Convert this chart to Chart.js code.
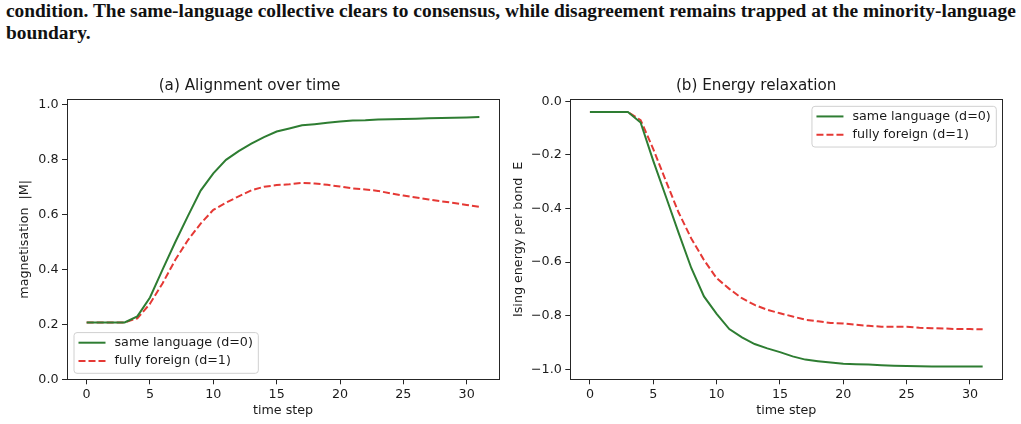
<!DOCTYPE html>
<html>
<head>
<meta charset="utf-8">
<script src="https://cdn.jsdelivr.net/npm/chart.js@4.4.1/dist/chart.umd.min.js"></script>
<style>
  html, body { margin: 0; padding: 0; background: #fff; }
  body { width: 1021px; height: 424px; position: relative; overflow: hidden; }
  .caption {
    position: absolute; left: 6px; top: 0;
    font-family: 'Liberation Serif', serif; font-weight: bold;
    font-size: 19.4px; line-height: 21.5px; color: #111;
    white-space: nowrap;
  }
  .panel { position: absolute; top: 60px; height: 364px; }
  #left { left: 0; width: 510px; }
  #right { left: 510px; width: 511px; }
</style>
</head>
<body>
<div class="caption">
  <div>condition. The same-language collective clears to consensus, while disagreement remains trapped at the minority-language</div>
  <div>boundary.</div>
</div>
<div class="panel" id="left"><canvas id="chartM" width="510" height="364"></canvas></div>
<div class="panel" id="right"><canvas id="chartE" width="511" height="364"></canvas></div>
<script>
/**
 * Data
 */
const timeSteps = Array.from({ length: 32 }, (_, i) => i);

const magSame = [
  0.207, 0.207, 0.207, 0.207, 0.229, 0.298, 0.400, 0.500, 0.595, 0.687,
  0.750, 0.799, 0.831, 0.858, 0.882, 0.902, 0.913, 0.925, 0.929, 0.934,
  0.939, 0.942, 0.943, 0.946, 0.947, 0.948, 0.949, 0.950, 0.951, 0.952,
  0.953, 0.955
];
const magForeign = [
  0.207, 0.207, 0.207, 0.207, 0.222, 0.275, 0.350, 0.435, 0.507, 0.567,
  0.617, 0.643, 0.666, 0.688, 0.701, 0.707, 0.710, 0.715, 0.713, 0.708,
  0.702, 0.695, 0.691, 0.686, 0.677, 0.669, 0.662, 0.655, 0.648, 0.642,
  0.635, 0.628
];
const energySame = [
  -0.040, -0.040, -0.040, -0.040, -0.079, -0.222, -0.356, -0.491, -0.622, -0.728,
  -0.793, -0.850, -0.881, -0.906, -0.922, -0.936, -0.952, -0.964, -0.970, -0.975,
  -0.979, -0.981, -0.982, -0.985, -0.987, -0.988, -0.989, -0.990, -0.990, -0.990,
  -0.990, -0.990
];
const energyForeign = [
  -0.040, -0.040, -0.040, -0.040, -0.070, -0.178, -0.298, -0.415, -0.512, -0.592,
  -0.660, -0.700, -0.735, -0.760, -0.778, -0.791, -0.803, -0.815, -0.821, -0.827,
  -0.829, -0.834, -0.838, -0.841, -0.841, -0.841, -0.845, -0.847, -0.848, -0.850,
  -0.850, -0.851
];

const xTicks = [0, 5, 10, 15, 20, 25, 30];
const magTicks = [0.0, 0.2, 0.4, 0.6, 0.8, 1.0];
const energyTicks = [-1.0, -0.8, -0.6, -0.4, -0.2, 0.0];

const seriesLabels = ['same language (d=0)', 'fully foreign (d=1)'];

/**
 * Shared styling
 */
const FONT = 'DejaVu Sans';
const TEXT_COLOR = '#1a1a1a';
const SPINE_COLOR = '#262626';
const GREEN = '#2e7d32';
const RED = '#e53935';
const BASE_SIZE = 12.7;

Chart.defaults.font.family = FONT;
Chart.defaults.font.size = BASE_SIZE;
Chart.defaults.color = TEXT_COLOR;

/**
 * Draws the full axes frame (all four spines)
 */
const framePlugin = {
  id: 'frame',
  afterDraw(chart) {
    const { ctx, chartArea: a } = chart;
    ctx.save();
    ctx.strokeStyle = SPINE_COLOR;
    ctx.lineWidth = 1;
    ctx.strokeRect(Math.round(a.left) + 0.5, Math.round(a.top) + 0.5,
      Math.round(a.right - a.left), Math.round(a.bottom - a.top));
    ctx.restore();
  }
};

/**
 * Matplotlib-like legend boxed inside the plot area
 */
const insideLegendPlugin = {
  id: 'insideLegend',
  afterDraw(chart, args, opts) {
    const { ctx, chartArea: a } = chart;
    const sets = chart.data.datasets;
    ctx.save();
    ctx.font = `${BASE_SIZE}px '${FONT}'`;
    const textW = Math.max(...sets.map(d => ctx.measureText(d.label).width));
    const w = 5 + 27 + 9 + textW + 5;
    const h = 40.7;
    const pad = 6.5;
    const x = opts.corner.includes('left') ? a.left + pad : a.right - pad - w;
    const y = opts.corner.includes('top') ? a.top + pad : a.bottom - pad - h;

    ctx.beginPath();
    ctx.roundRect(x + 0.5, y + 0.5, w, h, 3);
    ctx.fillStyle = 'rgba(255,255,255,0.8)';
    ctx.fill();
    ctx.strokeStyle = '#d0d0d0';
    ctx.lineWidth = 1;
    ctx.stroke();

    sets.forEach((d, i) => {
      const cy = y + 10.6 + i * 18.4;
      ctx.beginPath();
      ctx.strokeStyle = d.borderColor;
      ctx.lineWidth = d.borderWidth;
      ctx.setLineDash(d.borderDash || []);
      ctx.moveTo(x + 5, cy);
      ctx.lineTo(x + 32, cy);
      ctx.stroke();
      ctx.setLineDash([]);
      ctx.fillStyle = TEXT_COLOR;
      ctx.textBaseline = 'middle';
      ctx.textAlign = 'left';
      ctx.fillText(d.label, x + 41, cy);
    });
    ctx.restore();
  }
};

/**
 * Build a line dataset from x and y arrays
 */
function makeDataset(label, ys, color, dashed) {
  return {
    label,
    data: timeSteps.map((t, i) => ({ x: t, y: ys[i] })),
    borderColor: color,
    borderWidth: 2,
    borderDash: dashed ? [7, 3] : [],
    pointRadius: 0,
    tension: 0,
    fill: false
  };
}

/**
 * Create a panel configuration
 */
function makeConfig(p) {
  return {
    type: 'line',
    data: {
      datasets: [
        makeDataset(seriesLabels[0], p.same, GREEN, false),
        makeDataset(seriesLabels[1], p.foreign, RED, true)
      ]
    },
    options: {
      responsive: false,
      animation: false,
      layout: { padding: { left: 0, right: p.padRight, top: 0, bottom: 0 } },
      plugins: {
        legend: { display: false },
        tooltip: { enabled: false },
        title: {
          display: true,
          text: p.title,
          color: TEXT_COLOR,
          font: { size: 15.2, weight: 'normal' },
          padding: { top: 17.4, bottom: 3.7 }
        },
        insideLegend: { corner: p.legendCorner }
      },
      scales: {
        x: {
          type: 'linear',
          min: -1.55,
          max: 32.55,
          afterBuildTicks: s => { s.ticks = xTicks.map(v => ({ value: v })); },
          afterFit: s => { s.height = 44.7; },
          ticks: { padding: 3, color: TEXT_COLOR, callback: v => String(v) },
          grid: { display: true, drawOnChartArea: false, drawTicks: true, tickLength: 5, color: SPINE_COLOR },
          border: { display: false },
          title: { display: true, text: 'time step', color: TEXT_COLOR, padding: { top: 0, bottom: 5.7 } }
        },
        y: {
          type: 'linear',
          min: p.yMin,
          max: p.yMax,
          afterBuildTicks: s => { s.ticks = p.yTicks.map(v => ({ value: v })); },
          afterFit: s => { s.width = p.yWidth; },
          ticks: {
            padding: 3.5,
            color: TEXT_COLOR,
            callback: v => (v < 0 ? '\u2212' : '') + Math.abs(v).toFixed(1)
          },
          grid: { display: true, drawOnChartArea: false, drawTicks: true, tickLength: 5, color: SPINE_COLOR },
          border: { display: false },
          title: { display: true, text: p.yTitle, color: TEXT_COLOR, padding: { top: p.yTitlePad, bottom: 0 } }
        }
      }
    },
    plugins: [framePlugin, insideLegendPlugin]
  };
}

new Chart(document.getElementById('chartM'), makeConfig({
  title: '(a) Alignment over time',
  same: magSame,
  foreign: magForeign,
  yMin: 0,
  yMax: 1.0193,
  yTicks: magTicks,
  yTitle: 'magnetisation  |M|',
  yWidth: 67,
  yTitlePad: 17.4,
  padRight: 11,
  legendCorner: 'bottom-left'
}));

new Chart(document.getElementById('chartE'), makeConfig({
  title: '(b) Energy relaxation',
  same: energySame,
  foreign: energyForeign,
  yMin: -1.0375,
  yMax: 0.0075,
  yTicks: energyTicks,
  yTitle: 'Ising energy per bond  E',
  yWidth: 60.3,
  yTitlePad: 1.4,
  padRight: 18.7,
  legendCorner: 'top-right'
}));
</script>
</body>
</html>
